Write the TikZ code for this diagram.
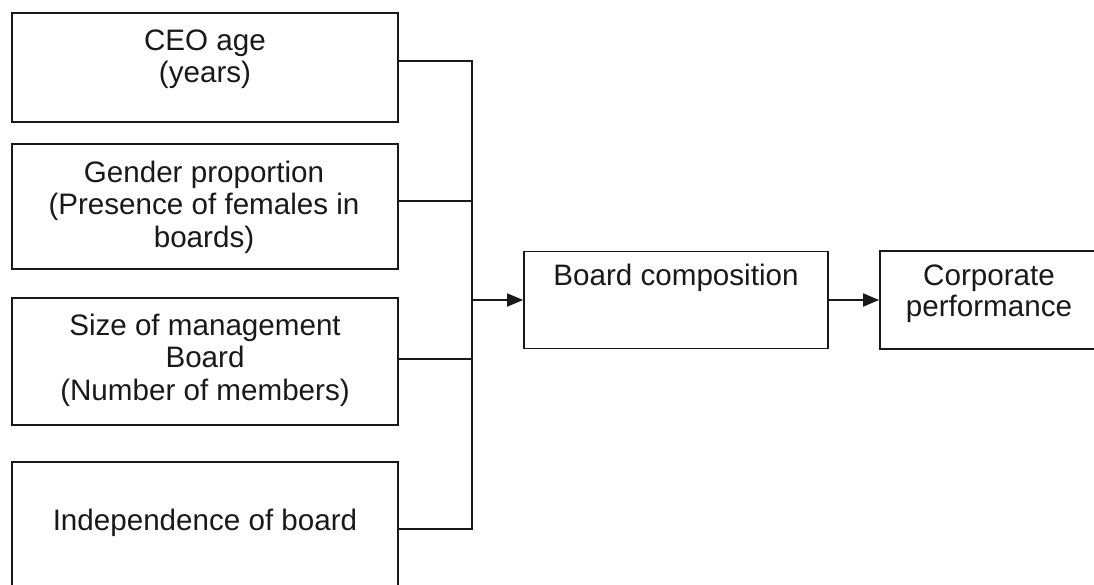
\documentclass[tikz,border=0pt]{standalone}
\usepackage{fontspec}
\setmainfont{Liberation Sans}
\usetikzlibrary{arrows.meta}
\begin{document}
\begin{tikzpicture}[x=1pt,y=-1pt,
  box/.style={draw=black!90, line width=1.8pt, inner sep=0pt},
  txt/.style={anchor=north, inner sep=0pt, align=center, text=black!90,
    font=\fontsize{29.6}{32.5}\selectfont},
  conn/.style={draw=black!90, line width=1.8pt},
  arr/.style={conn, -{Triangle[length=16pt,width=13pt]}}
]
\useasboundingbox (0,0) rectangle (1094,585);
% left boxes
\node[box, minimum width=386pt, minimum height=109pt] (b1) at (205,67.5) {};
\node[box, minimum width=386pt, minimum height=125pt] (b2) at (205,206.5) {};
\node[box, minimum width=386pt, minimum height=127pt] (b3) at (205,361.5) {};
\node[box, minimum width=386pt, minimum height=142pt] (b4) at (205,533) {};
\node[txt] (t1) at (205,28) {\rule{0pt}{22pt}CEO age\\(years)};
\node[txt] (t2) at (204,160) {\rule{0pt}{22pt}Gender proportion\\(Presence of females in\\boards)};
\node[txt] (t3) at (205,313) {\rule{0pt}{22pt}Size of management\\Board\\(Number of members)};
\node[txt] (t4) at (205,508) {\rule{0pt}{22pt}Independence of board};
% right boxes
\node[box, minimum width=304pt, minimum height=97pt] (bc) at (676,300) {};
\node[txt] (tbc) at (676,263) {\rule{0pt}{22pt}Board composition};
\node[box, minimum width=218pt, minimum height=98pt] (cp) at (989,300) {};
\node[txt, font=\fontsize{29.6}{31}\selectfont] (tcp) at (989,263) {\rule{0pt}{22pt}Corporate\\performance};
% bus
\coordinate (busT) at (472,61);
\coordinate (busB) at (472,529);
\coordinate (busM) at (472,300);
\draw[conn] (b1.east |- busT) -- (busT) -- (busB) -- (b4.east |- busB);
\draw[conn] (b2.east |- 0,201) -- (busT |- 0,201);
\draw[conn] (b3.east |- 0,359) -- (busT |- 0,359);
\draw[arr] (busM) -- (bc.west);
\draw[arr] (bc.east) -- (cp.west);
\end{tikzpicture}
\end{document}
